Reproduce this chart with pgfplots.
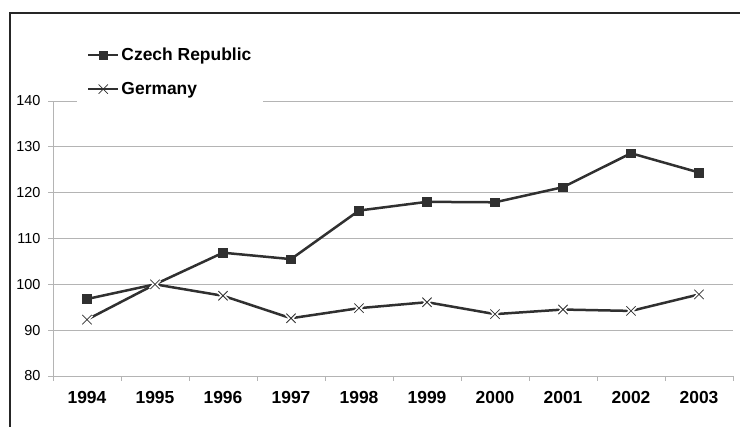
\documentclass[border=0pt]{standalone}
\usepackage{fontspec}
\setmainfont{Liberation Sans}
\usepackage{pgfplots}
\pgfplotsset{compat=1.18}
\definecolor{dk}{HTML}{303030}
\definecolor{gr}{HTML}{B4B4B4}
\pgfplotsset{gerlegend/.style={legend image code/.code={\draw[##1, mark=none] (0bp,0bp) -- (8bp,0bp) (22bp,0bp) -- (30bp,0bp);
    \path[##1, mark indices={2}] plot coordinates {(0bp,0bp) (15bp,0bp) (30bp,0bp)};}}}
\begin{document}
\begin{tikzpicture}
\useasboundingbox (0,0) rectangle (740bp,427bp);
\clip (0,0) rectangle (740bp,427bp);
\draw[line width=1.3bp, black!85] (10bp,-5bp) -- (10bp,414bp) -- (750bp,414bp);
\begin{axis}[
  at={(53bp,51bp)}, anchor=south west, scale only axis,
  width=680bp, height=275bp,
  xmin=-0.5, xmax=9.5, ymin=80, ymax=140,
  ytick={80,90,...,140},
  xtick={0,...,9},
  xticklabels={1994,1995,1996,1997,1998,1999,2000,2001,2002,2003},
  minor xtick={-0.5,0.5,...,9.5},
  axis x line*=bottom, axis y line*=left,
  axis line style={gr, line width=0.8bp},
  tick align=outside,
  major tick length=5bp, minor tick length=5bp,
  major x tick style={draw=none},
  minor x tick style={gr, line width=0.8bp},
  major y tick style={gr, line width=0.8bp},
  ymajorgrids, grid style={gr, line width=0.8bp},
  /pgf/number format/assume math mode=true,
  yticklabel style={font=\fontsize{14.5}{14.5}\selectfont, xshift=-4bp},
  xticklabel style={font=\bfseries\fontsize{17.5}{17.5}\selectfont, yshift=-7bp},
  legend style={at={(0.035,1.222)}, anchor=north west, draw=none, fill=white,
    font=\bfseries\fontsize{17.5}{17.5}\selectfont, row sep=16bp,
    inner xsep=10bp, inner ysep=6bp},
  legend cell align=left,
  legend image code/.code={\draw[#1, mark indices={2}] plot coordinates {(0bp,0bp) (15bp,0bp) (30bp,0bp)};},
]
\addplot[dk, line width=2.5bp, mark=square*, mark size=4.3bp, mark indices={1,3,4,5,6,7,8,9,10}, mark options={fill=dk, line width=0.5bp}]
  coordinates {(0,96.8) (1,100) (2,106.9) (3,105.5) (4,116.1) (5,118.0) (6,117.9) (7,121.2) (8,128.6) (9,124.4)};
\addlegendentry{Czech Republic}
\addplot[dk, line width=2.5bp, mark=x, mark size=6.5bp, mark options={line width=0.8bp}, gerlegend]
  coordinates {(0,92.3) (1,100) (2,97.5) (3,92.6) (4,94.8) (5,96.1) (6,93.5) (7,94.5) (8,94.2) (9,97.8)};
\addlegendentry{Germany}
\addplot[only marks, forget plot, mark=x, mark size=6.5bp, mark options={white, line width=4bp}]
  coordinates {(0,92.3) (1,100) (2,97.5) (3,92.6) (4,94.8) (5,96.1) (6,93.5) (7,94.5) (8,94.2) (9,97.8)};
\addplot[only marks, forget plot, mark=x, mark size=6.5bp, mark options={dk, line width=0.8bp}]
  coordinates {(0,92.3) (1,100) (2,97.5) (3,92.6) (4,94.8) (5,96.1) (6,93.5) (7,94.5) (8,94.2) (9,97.8)};
\end{axis}
\end{tikzpicture}
\end{document}
